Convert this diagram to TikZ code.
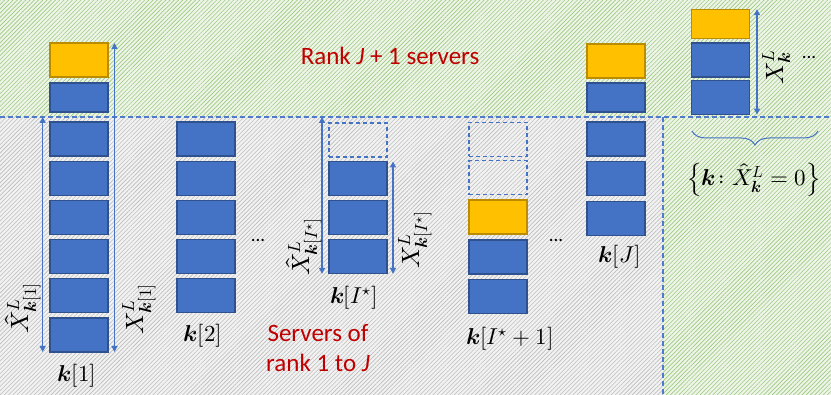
\documentclass[tikz,border=0pt]{standalone}
\usepackage{unicode-math}
\setmathfont{Latin Modern Math}
\newfontfamily\carl{Carlito}
\usetikzlibrary{patterns.meta,arrows.meta,decorations.pathreplacing}
\definecolor{bfill}{HTML}{4472C4}
\definecolor{bdraw}{HTML}{2F528F}
\definecolor{yfill}{HTML}{FFC000}
\definecolor{ydraw}{HTML}{BC8C00}
\definecolor{redt}{HTML}{C00000}
\definecolor{hgreenbg}{HTML}{EEF5E8}
\definecolor{hgreen}{HTML}{9CC97F}
\definecolor{hgraybg}{HTML}{F2F2F2}
\definecolor{hgray}{HTML}{BDBDBD}
\definecolor{dline}{HTML}{4F7BC8}
\begin{document}
\begin{tikzpicture}[x=1pt,y=-1pt,
 srv/.style={draw=bdraw,fill=bfill,line width=1.1pt,minimum width=58pt,minimum height=34pt,inner sep=0pt,outer sep=0pt},
 srvshort/.style={srv,minimum height=29pt},
 job/.style={draw=ydraw,fill=yfill,line width=1.1pt,minimum width=58pt,minimum height=34pt,inner sep=0pt,outer sep=0pt},
 jobshort/.style={job,minimum height=29pt},
 emptysrv/.style={draw=bfill,dash pattern=on 4pt off 3pt,line width=1.1pt,minimum width=58pt,minimum height=34pt,inner sep=0pt,outer sep=0pt},
 dimarrow/.style={draw=bfill,line width=1.2pt,{Triangle[width=6pt,length=6pt]}-{Triangle[width=6pt,length=6pt]}},
 mlab/.style={font=\fontsize{23}{27}\selectfont,inner sep=0pt},
 rlab/.style={font=\fontsize{25}{29}\selectfont,inner sep=0pt,rotate=90},
 redtext/.style={text=redt,font=\carl\fontsize{25}{30}\selectfont,inner sep=0pt,anchor=base},
 dotlab/.style={font=\carl\fontsize{19}{20}\selectfont,inner sep=0pt},
 sepline/.style={draw=dline,line width=1.3pt,dash pattern=on 5pt off 3pt},
 bracestyle/.style={draw=bfill,line width=1pt,decorate,decoration={brace,amplitude=14pt,mirror}},
]
% backgrounds
\fill[hgreenbg] (0,0) -- (831,0) -- (831,395) -- (663,395) -- (663,117) -- (0,117) -- cycle;
\fill[pattern={Lines[angle=45,distance=3pt,line width=0.6pt]},pattern color=hgreen]
  (0,0) -- (831,0) -- (831,395) -- (663,395) -- (663,117) -- (0,117) -- cycle;
\fill[hgraybg] (0,117) rectangle (663,395);
\fill[pattern={Lines[angle=45,distance=3pt,line width=0.6pt]},pattern color=hgray]
  (0,117) rectangle (663,395);
\useasboundingbox (0,0) rectangle (831,395);
\coordinate (hl) at (0,117);
\coordinate (hr) at (831,117);
\coordinate (vt) at (663,117);
\coordinate (vb) at (663,395);
\draw[sepline] (hl) -- (hr);
\draw[sepline] (vt) -- (vb);

% column k[1]
\node[job] (c1y) at (79,60) {};
\node[srvshort] (c1a) at (79,97.5) {};
\foreach \i/\yy in {1/139,2/178.2,3/217.4,4/256.6,5/295.8,6/335}
  \node[srv] (c1b\i) at (79,\yy) {};
% column k[2]
\foreach \i/\yy in {1/139,2/178.2,3/217.4,4/256.6,5/295.8}
  \node[srv] (c2b\i) at (206,\yy) {};
% column k[I*]
\node[emptysrv] (c3e) at (358,140) {};
\foreach \i/\yy in {1/178.5,2/217.6,3/256.8}
  \node[srv] (c3b\i) at (358,\yy) {};
% column k[I*+1]
\node[emptysrv] (c4e1) at (498,139.5) {};
\node[emptysrv] (c4e2) at (498,177.8) {};
\node[job] (c4y) at (498,217) {};
\foreach \i/\yy in {1/257,2/296.3}
  \node[srv] (c4b\i) at (498,\yy) {};
% column k[J]
\node[job] (c5y) at (616,61) {};
\node[srvshort] (c5a) at (616,97.5) {};
\foreach \i/\yy in {1/139,2/178.6,3/218.6}
  \node[srv] (c5b\i) at (616,\yy) {};
% right column
\node[jobshort] (c6y) at (720.5,23.7) {};
\node[srv] (c6b1) at (720.5,60) {};
\node[srv] (c6b2) at (720.5,97.6) {};

% dimension arrows
\coordinate (a1t) at (42.7,117);
\draw[dimarrow] (a1t) -- (a1t |- c1b6.south);
\coordinate (a2t) at (114.5,0);
\draw[dimarrow] (a2t |- c1y.north) -- (a2t |- c1b6.south);
\coordinate (a3t) at (322,117);
\draw[dimarrow] (a3t) -- (a3t |- c3b3.south);
\coordinate (a4t) at (393,0);
\draw[dimarrow] (a4t |- c3b1.north) -- (a4t |- c3b3.south);
\coordinate (a5t) at (757,0);
\draw[dimarrow] (a5t |- c6y.north) -- (a5t |- c6b2.south);

% rotated labels
\node[rlab] (l1) at (23,308) {$\hat{X}^{L}_{\symbfit{k}[1]}$};
\node[rlab] (l2) at (139,309) {$X^{L}_{\symbfit{k}[1]}$};
\node[rlab] (l3) at (304,247) {$\hat{X}^{L}_{\symbfit{k}[I^{\star}]}$};
\node[rlab] (l4) at (415,240) {$X^{L}_{\symbfit{k}[I^{\star}]}$};
\node[rlab] (l5) at (777,67) {$X^{L}_{\symbfit{k}}$};

% column labels
\node[mlab] (k1) at (77,376) {$\symbfit{k}[1]$};
\node[mlab] (k2) at (203,336) {$\symbfit{k}[2]$};
\node[mlab] (k3) at (354,298) {$\symbfit{k}[I^{\star}]$};
\node[mlab] (k4) at (510,339) {$\symbfit{k}[I^{\star}+1]$};
\node[mlab] (k5) at (620,257) {$\symbfit{k}[J]$};

% dots
\node[dotlab] (d1) at (258,240) {...};
\node[dotlab] (d2) at (556,240) {...};
\node[dotlab] (d3) at (809,58) {...};

% brace
\coordinate (brl) at (692,131);
\coordinate (brr) at (818,131);
\draw[bracestyle] (brl) -- (brr);
\node[mlab] (brlab) at (754,180) {$\left\{\symbfit{k}\colon\hat{X}^{L}_{\symbfit{k}}=0\right\}$};

% red texts
\node[redtext] (title) at (390,65) {Rank \textit{J} + 1 servers};
\node[redtext] (sv1) at (318,342) {Servers of};
\node[redtext] (sv2) at (318,372) {rank 1 to \textit{J}};
\end{tikzpicture}
\end{document}
